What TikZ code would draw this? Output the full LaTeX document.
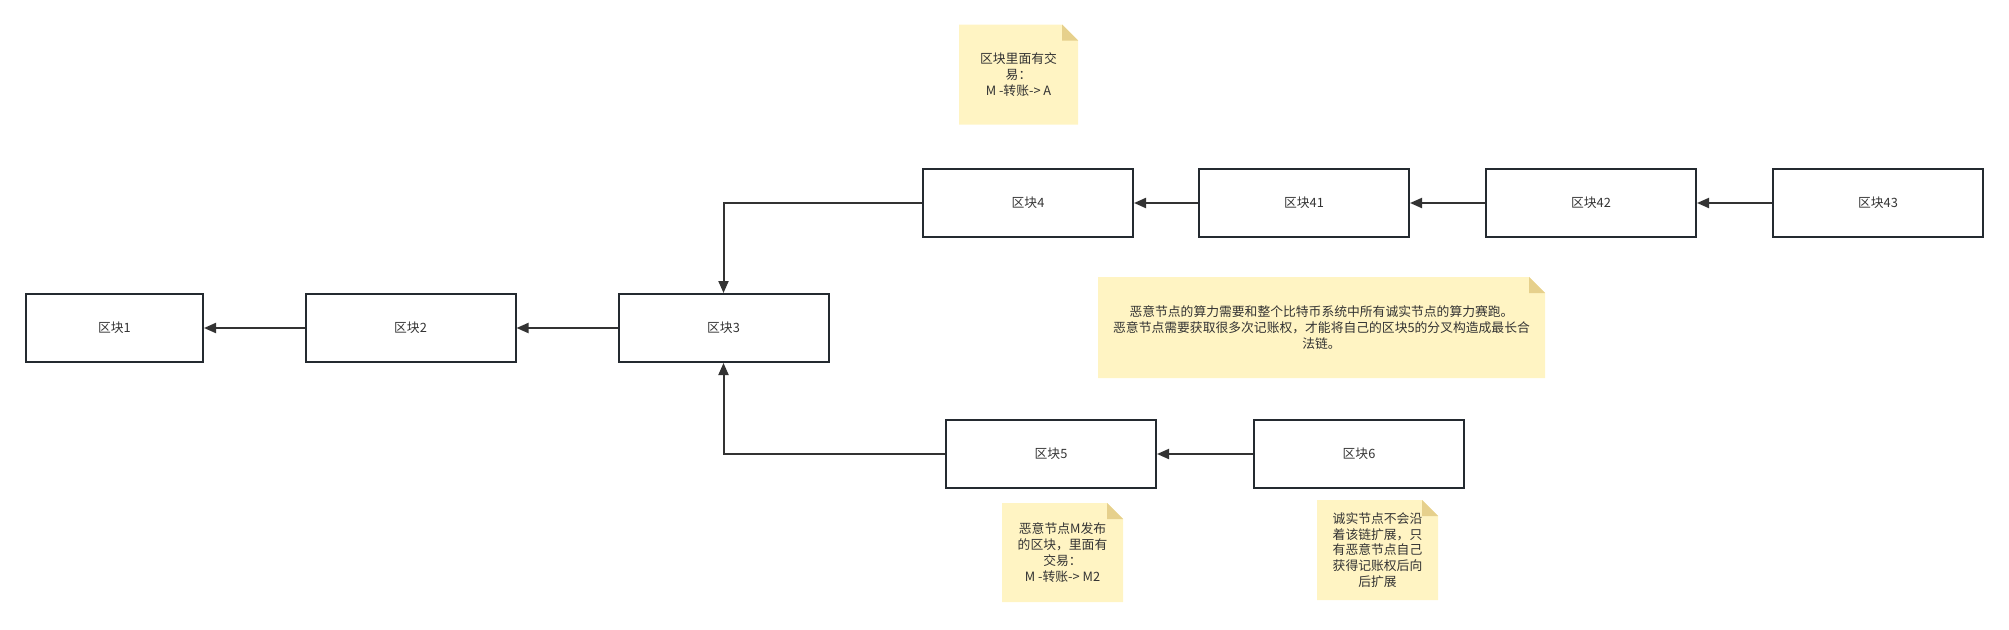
\documentclass[tikz,border=0pt]{standalone}
\usepackage{fontspec}
\setmainfont{Noto Sans CJK SC}
\usepackage{xcolor}
\usetikzlibrary{arrows.meta}

\definecolor{linegray}{HTML}{242A30}
\definecolor{textgray}{HTML}{333333}
\definecolor{notefill}{HTML}{FFF4C3}
\definecolor{foldfill}{HTML}{E6D08C}

\begin{document}
\begin{tikzpicture}[x=1pt,y=-1pt,
	blockbox/.style={draw=linegray, line width=2pt, minimum width=210pt, minimum height=68pt,
		text=textgray, font=\fontsize{12.8}{15}\selectfont},
	link/.style={draw=textgray, line width=2pt, -{Triangle[length=12pt,width=10pt]}},
	notebox/.style={align=center, text=textgray, inner sep=0pt,
		font=\fontsize{12.8}{15.8}\selectfont,
		path picture={
			\fill[notefill] (path picture bounding box.south west)
			|- ([xshift=-16pt]path picture bounding box.north east)
			-- ([yshift=-16pt]path picture bounding box.north east)
			|- cycle;
			\fill[foldfill] ([xshift=-16pt]path picture bounding box.north east)
			-- ([xshift=-16pt,yshift=-16pt]path picture bounding box.north east)
			-- ([yshift=-16pt]path picture bounding box.north east) -- cycle;
		}}]
		\useasboundingbox (0,0) rectangle (2009,629);
		% main chain
		\node[blockbox, minimum width=177pt] (block1) at (114.5,328) {区块1};
		\node[blockbox] (block2) at (410.5,328) {区块2};
		\node[blockbox] (block3) at (723.5,328) {区块3};
		% honest branch
		\node[blockbox] (block4) at (1028,203) {区块4};
		\node[blockbox] (block41) at (1304,203) {区块41};
		\node[blockbox] (block42) at (1591,203) {区块42};
		\node[blockbox] (block43) at (1878,203) {区块43};
		% attacker branch
		\node[blockbox] (block5) at (1051,454) {区块5};
		\node[blockbox] (block6) at (1359,454) {区块6};
		% notes
		\node[notebox, minimum width=119pt, minimum height=100pt] (noteTx) at (1018.5,74.5)
		{区块里面有交\\易：\\M -转账-> A};
		\node[notebox, minimum width=447pt, minimum height=101pt] (noteRace) at (1321.5,327.5)
		{恶意节点的算力需要和整个比特币系统中所有诚实节点的算力赛跑。\\
			恶意节点需要获取很多次记账权，才能将自己的区块5的分叉构造成最长合\\法链。};
		\node[notebox, minimum width=121pt, minimum height=99pt] (noteAttack) at (1062.5,552.5)
		{恶意节点M发布\\的区块，里面有\\交易：\\M -转账-> M2};
		\node[notebox, minimum width=121pt, minimum height=100pt] (noteHonest) at (1377.5,550)
		{诚实节点不会沿\\着该链扩展，只\\有恶意节点自己\\获得记账权后向\\后扩展};
		% links
		\draw[link] (block2) -- (block1);
		\draw[link] (block3) -- (block2);
		\draw[link] (block4.west) -| (block3.north);
		\draw[link] (block41) -- (block4);
		\draw[link] (block42) -- (block41);
		\draw[link] (block43) -- (block42);
		\draw[link] (block5.west) -| (block3.south);
		\draw[link] (block6) -- (block5);
\end{tikzpicture}
\end{document}
